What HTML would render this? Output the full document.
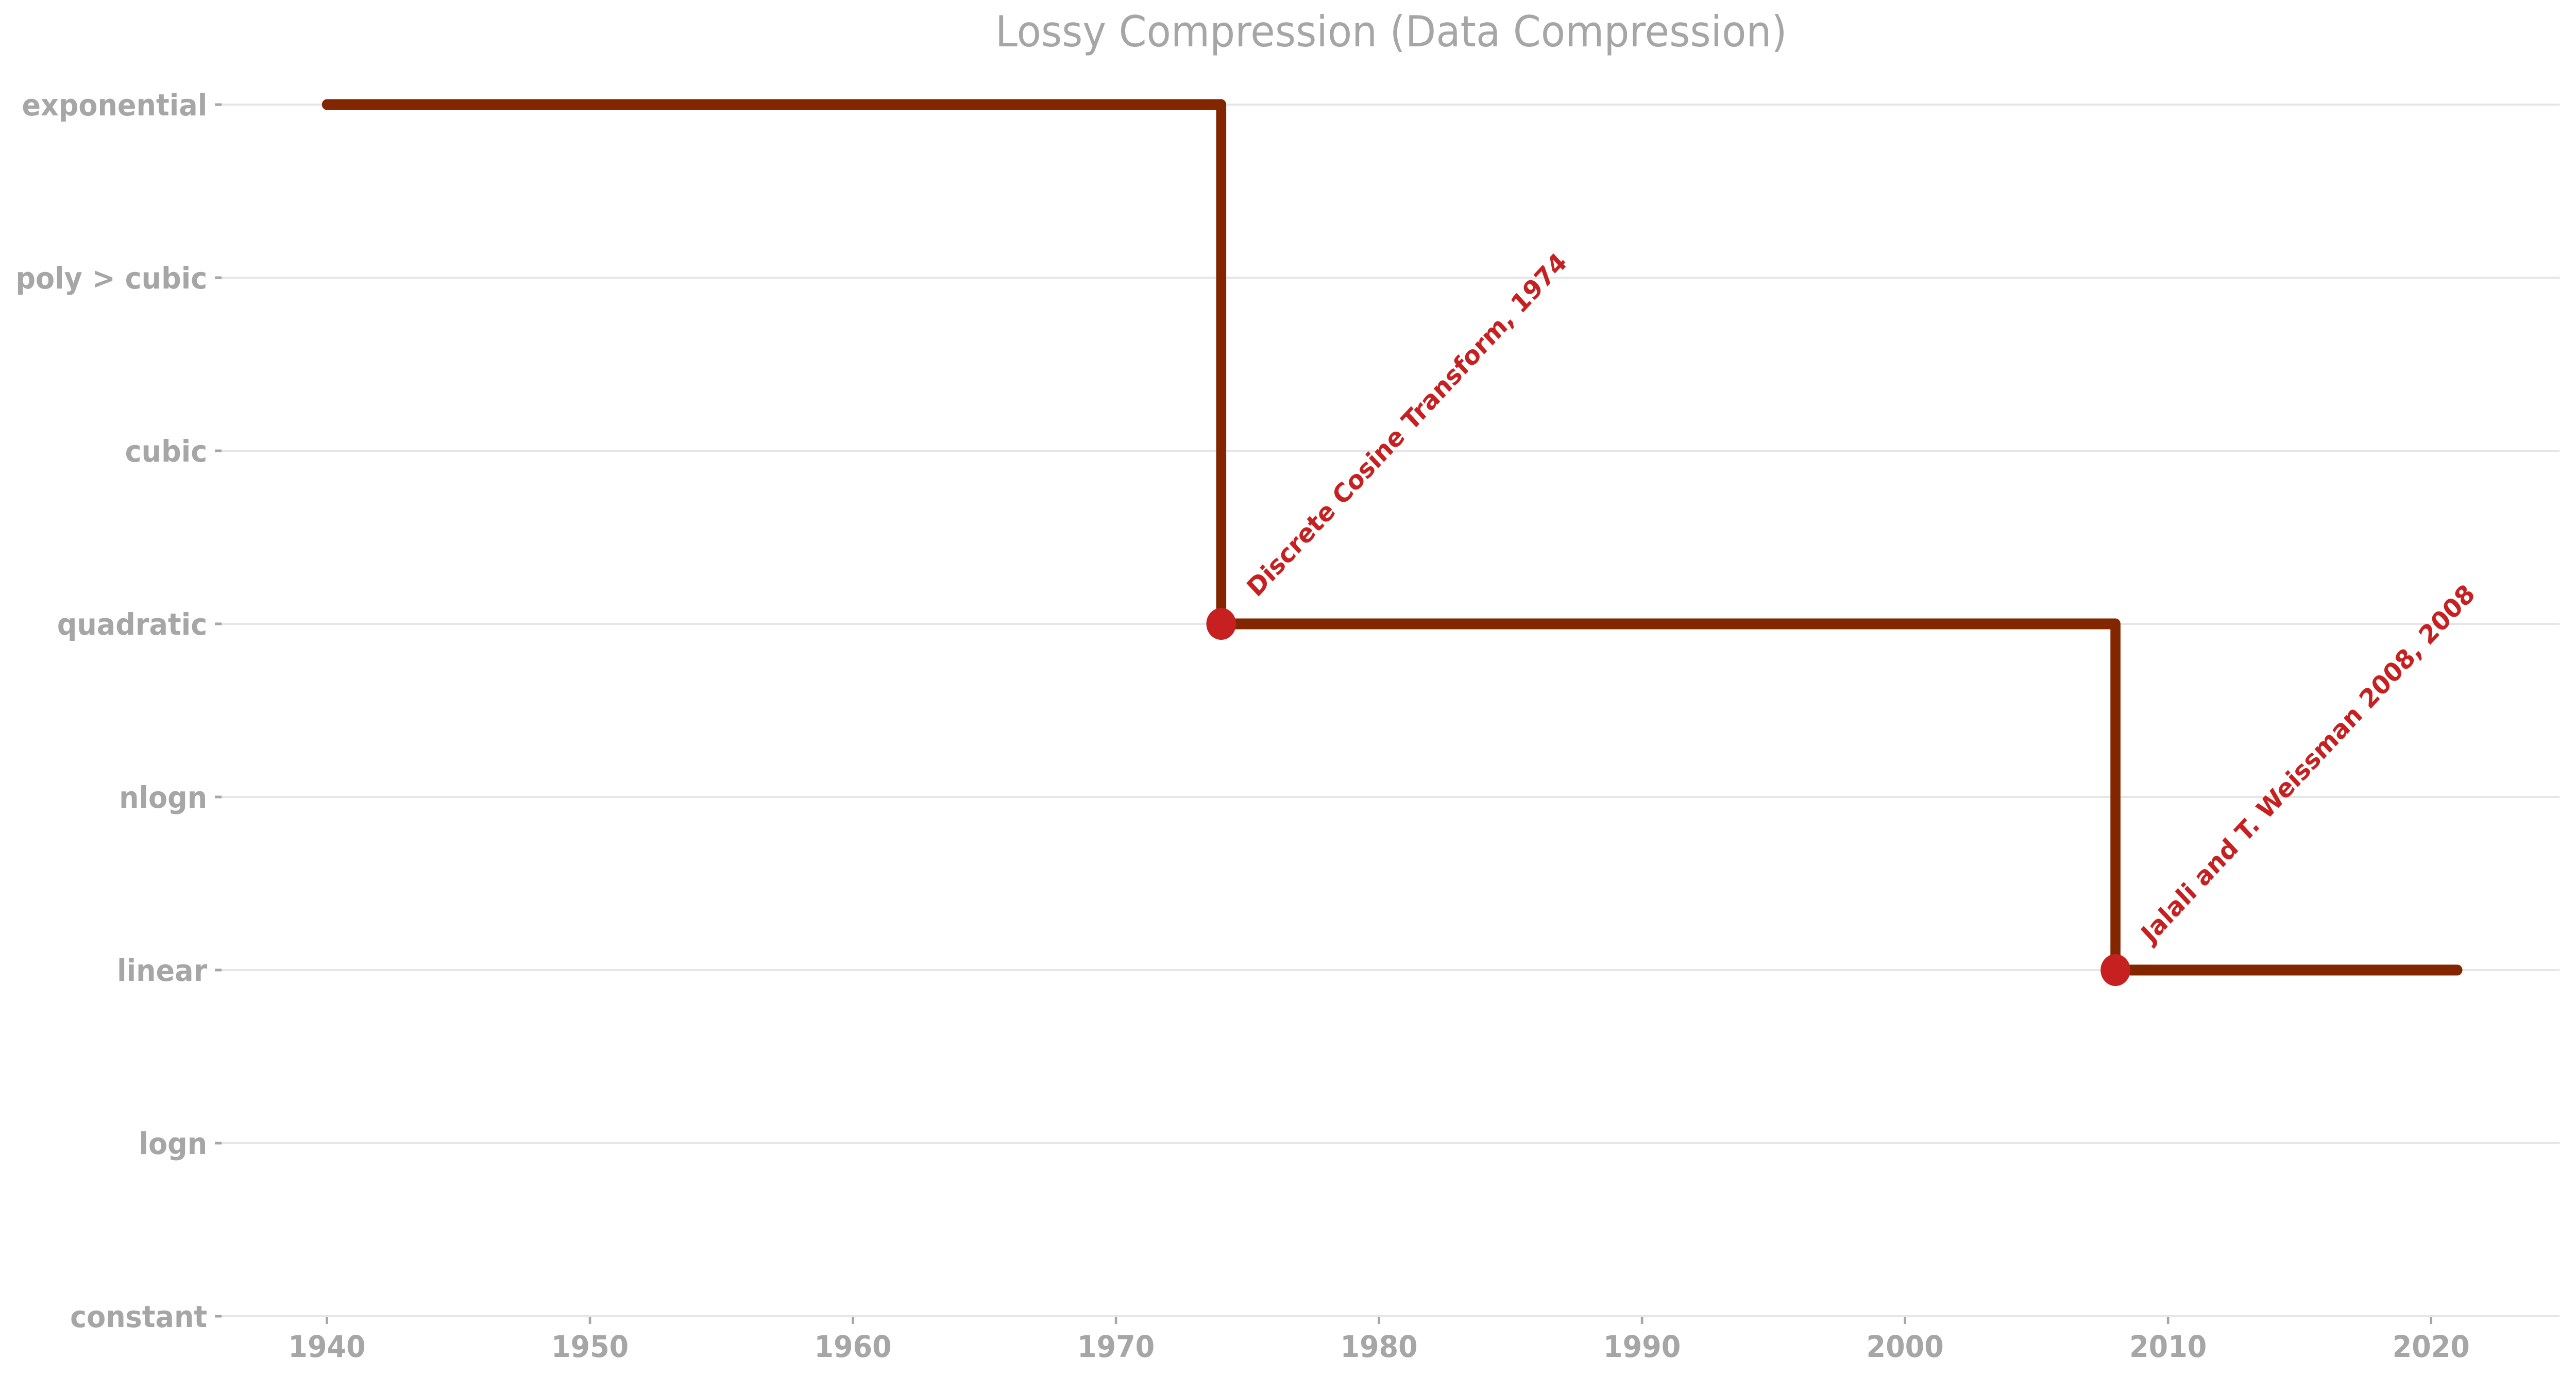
<!DOCTYPE html>
<html><head><meta charset="utf-8"><style>
html,body{margin:0;padding:0;background:#fff;overflow:hidden;width:100vw;height:100vh;}
svg{display:block;width:100vw;height:100vh;font-family:"DejaVu Sans","Liberation Sans",sans-serif;}
</style></head><body>
<svg id="chart" viewBox="0 0 5370 2671" preserveAspectRatio="none" xmlns="http://www.w3.org/2000/svg">
<text x="2900" y="90" font-size="83" fill="#a6a6a6" text-anchor="middle">Lossy Compression (Data Compression)</text>
<g id="grid"></g><g id="yticks"></g><g id="xticks"></g><g id="series"></g><g id="annots"></g>
</svg>
<script>
const categories = ["constant","logn","linear","nlogn","quadratic","cubic","poly > cubic","exponential"];
const xTicks = [1940,1950,1960,1970,1980,1990,2000,2010,2020];
const stepYears = [1940,1974,2008,2021];
const stepLevels = [7,4,2,2];
const pointYears = [1974,2008];
const pointLevels = [4,2];
const pointLabels = ["Discrete Cosine Transform, 1974","Jalali and T. Weissman 2008, 2008"];

const NS="http://www.w3.org/2000/svg";
function xs(v){return 681.5+(v-1940)*54.83;}
function ys(i){return 2555-i*336;}
function mk(tag,attrs,parent){const e=document.createElementNS(NS,tag);for(const k in attrs)e.setAttribute(k,attrs[k]);document.getElementById(parent).appendChild(e);return e;}

categories.forEach((c,i)=>{
  const g=mk('line',{x1:460,x2:5336,y1:ys(i),y2:ys(i),stroke:'#e6e6e6','stroke-width':4},'grid');
  
  
  const t=mk('line',{x1:448,x2:462,y1:ys(i),y2:ys(i),stroke:'#a6a6a6','stroke-width':5},'yticks');
  
  
  const l=mk('text',{x:432,y:ys(i)+21,'font-size':58,'font-weight':'bold',fill:'#a6a6a6','text-anchor':'end'},'yticks');
  l.textContent=c;
  
  
});
xTicks.forEach((v,i)=>{
  const t=mk('line',{x1:xs(v),x2:xs(v),y1:2556,y2:2570,stroke:'#a6a6a6','stroke-width':5},'xticks');
  
  
  const l=mk('text',{x:xs(v),y:2634,'font-size':58,'font-weight':'bold',fill:'#a6a6a6','text-anchor':'middle'},'xticks');
  l.textContent=v;
  
  
});
let d='';
for(let i=0;i<stepYears.length;i++){
  const x=xs(stepYears[i]),y=ys(stepLevels[i]);
  if(i===0)d+='M'+x+' '+y;
  else{d+=' L'+x+' '+ys(stepLevels[i-1])+' L'+x+' '+y;}
}
const p=mk('path',{d:d,fill:'none',stroke:'#822600','stroke-width':21,'stroke-linecap':'round','stroke-linejoin':'round'},'series');


pointYears.forEach((yr,i)=>{
  const cx=xs(yr),cy=ys(pointLevels[i]);
  const c=mk('circle',{cx:cx,cy:cy,r:31,fill:'#c62020'},'series');
  
  
  const t=mk('text',{x:cx+75,y:cy-50,'font-size':50,'font-weight':'bold',fill:'#c62020',transform:'rotate(-45 '+(cx+75)+' '+(cy-50)+')'},'annots');
  t.textContent=pointLabels[i];
  
  
});
</script>
</body></html>
